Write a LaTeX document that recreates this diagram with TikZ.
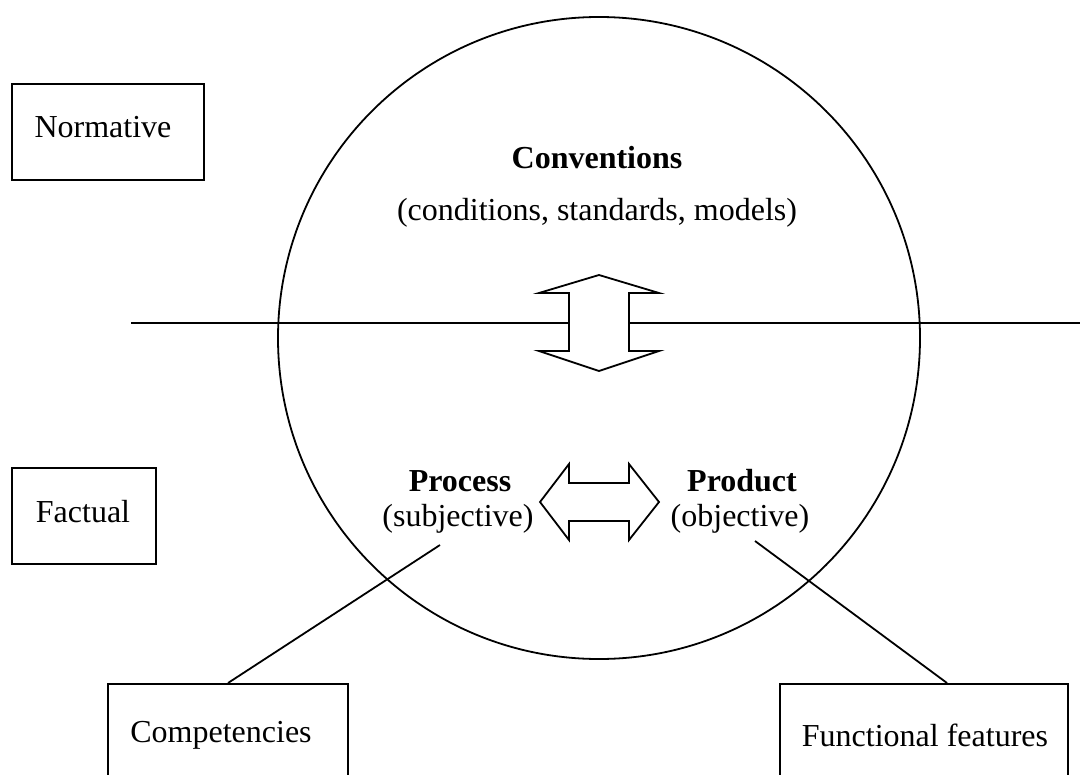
\documentclass[tikz,border=0pt]{standalone}
\usepackage{fontspec}
\setmainfont{Liberation Serif}
\begin{document}
\begin{tikzpicture}[x=0.5pt,y=-0.5pt,
  box/.style={draw,line width=1.2pt,inner sep=0pt},
  lbl/.style={inner sep=0pt,font=\fontsize{16}{19}\selectfont},
  blbl/.style={inner sep=0pt,font=\fontsize{16}{19}\selectfont\bfseries},
  ln/.style={line width=0.9pt}]
\useasboundingbox (0,0) rectangle (1080,775);
\clip (0,0) rectangle (1080,775);
% circle
\node[draw,ln,circle,minimum size=321pt,inner sep=0pt] (circ) at (599,338) {};
% horizontal line
\coordinate (hl) at (131,323);
\coordinate (hr) at (1080,323);
\draw[ln] (hl) -- (hr);
% vertical double arrow
\filldraw[ln,fill=white] (599,275) -- (659,293) -- (629,293) -- (629,351) -- (659,351) -- (599,371) -- (539,351) -- (569,351) -- (569,293) -- (539,293) -- cycle;
% horizontal double arrow
\filldraw[ln,fill=white] (540,502) -- (569,464) -- (569,483) -- (629,483) -- (629,464) -- (659,502) -- (629,540) -- (629,521) -- (569,521) -- (569,540) -- cycle;
% texts
\node[blbl] (conv) at (597,158) {Conventions};
\node[lbl] (convs) at (597,213) {(conditions, standards, models)};
\node[blbl] (proc) at (460,481) {Process};
\node[lbl] (procs) at (458,519) {(subjective)};
\node[blbl] (prod) at (742,481) {Product};
\node[lbl] (prods) at (740,519) {(objective)};
% boxes
\node[box,minimum width=96pt,minimum height=48pt,anchor=north west] (norm) at (11,83) {};
\node[lbl] (normt) at (103,127) {Normative};
\node[box,minimum width=72pt,minimum height=48pt,anchor=north west] (fact) at (11,467) {};
\node[lbl] (factt) at (83,512) {Factual};
\node[box,minimum width=120pt,minimum height=60pt,anchor=north west] (comp) at (107,683) {};
\node[lbl] (compt) at (221,735) {Competencies};
\node[box,minimum width=144pt,minimum height=60pt,anchor=north west] (func) at (779,683) {};
\node[lbl] (funct) at (925,735) {Functional features};
% connectors
\coordinate (ce) at (440,545);
\coordinate (fe) at (755,541);
\draw[ln] (comp.north west) ++(121,0) coordinate (cs) -- (ce);
\draw[ln] (func.north west) ++(168,0) coordinate (fs) -- (fe);
\end{tikzpicture}
\end{document}
